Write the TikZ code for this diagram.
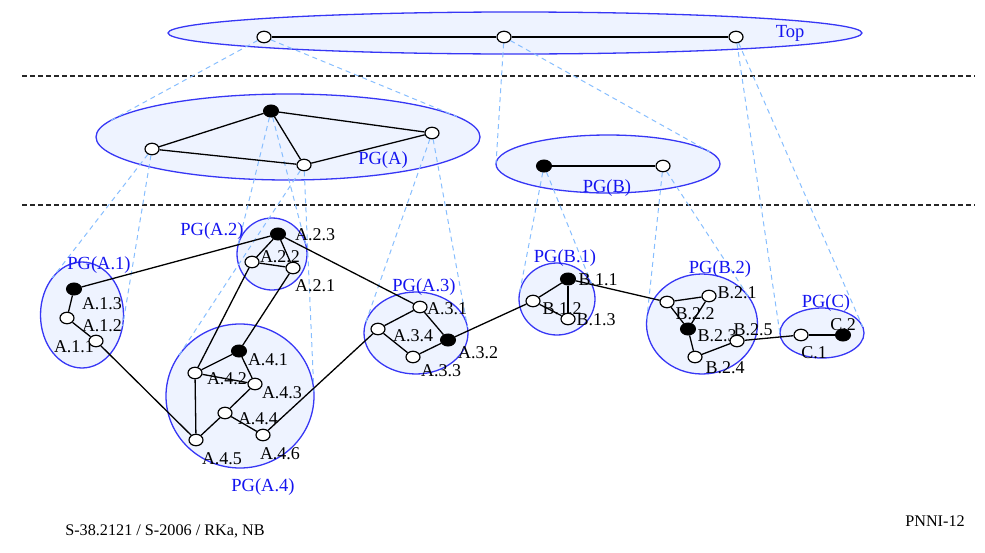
\documentclass[tikz,border=0pt]{standalone}
\usepackage{fontspec}
\setmainfont{Liberation Serif}
\usetikzlibrary{shapes.geometric}
\definecolor{pgfill}{RGB}{238,243,255}
\definecolor{pgline}{RGB}{55,55,245}
\definecolor{pgtext}{RGB}{20,20,240}
\definecolor{conecol}{RGB}{135,190,255}
\pgfdeclarelayer{bg}
\pgfdeclarelayer{mid}
\pgfdeclarelayer{lab}
\pgfsetlayers{bg,mid,lab,main}
\tikzset{
  grp/.style={ellipse, draw=pgline, fill=pgfill, line width=1.3pt, inner sep=0pt, outer sep=0pt},
  wn/.style={ellipse, draw=black, fill=white, line width=1.2pt, minimum width=14pt, minimum height=11.5pt, inner sep=0pt},
  bn/.style={ellipse, draw=black, fill=black, line width=1pt, minimum width=15pt, minimum height=12pt, inner sep=0pt},
  edge/.style={draw=black, line width=1.3pt},
  conel/.style={draw=conecol, dash pattern=on 5pt off 4pt, line width=1pt},
  sepline/.style={draw=black!85, dash pattern=on 5pt off 3pt, line width=1.1pt},
  lbl/.style={font=\fontsize{18}{18}\selectfont, inner sep=0pt},
  glbl/.style={font=\fontsize{18.5}{18.5}\selectfont, inner sep=0pt, text=pgtext},
  foot/.style={font=\fontsize{16.2}{16.2}\selectfont, inner sep=0pt},
}
\newcommand\grpat[5]{\node[grp, minimum width=#4pt, minimum height=#5pt] (#1) at (#2,#3) {};}
% cone tangents: #1 parent node, #2 px, #3 py, #4 cx, #5 cy, #6 a, #7 b
\newcommand\conetan[7]{%
  \pgfmathsetmacro\cnX{(#2-#4)/#6}%
  \pgfmathsetmacro\cnY{(#3-#5)/#7}%
  \pgfmathsetmacro\cnT{atan2(\cnY,\cnX)}%
  \pgfmathsetmacro\cnA{acos(1/sqrt(\cnX*\cnX+\cnY*\cnY))}%
  \coordinate (#1-tl) at ({#4+#6*cos(\cnT+\cnA)},{#5+#7*sin(\cnT+\cnA)});
  \coordinate (#1-tr) at ({#4+#6*cos(\cnT-\cnA)},{#5+#7*sin(\cnT-\cnA)});
  \draw[conel] (#1) -- (#1-tl);
  \draw[conel] (#1) -- (#1-tr);
}
\begin{document}
\begin{tikzpicture}[x=1pt,y=-1pt]
\useasboundingbox (0,0) rectangle (985,552);
% ---------- nodes ----------
\node[wn] (t1) at (264,37) {};
\node[wn] (t2) at (504,37) {};
\node[wn] (t3) at (736,37) {};
\node[bn] (aB) at (271,111) {};
\node[wn] (a1) at (152,149) {};
\node[wn] (a2) at (304,165) {};
\node[wn] (a3) at (432,133) {};
\node[bn] (bB) at (544,166) {};
\node[wn] (b2) at (663,166) {};
\node[bn] (a13) at (74,289) {};
\node[wn] (a12) at (67,318) {};
\node[wn] (a11) at (96,341) {};
\node[bn] (a23) at (278,234) {};
\node[wn] (a22) at (252,262) {};
\node[wn] (a21) at (293,268) {};
\node[bn] (a41) at (239,351) {};
\node[wn] (a42) at (195,373) {};
\node[wn] (a43) at (255,384) {};
\node[wn] (a44) at (225,413) {};
\node[wn] (a45) at (196,440) {};
\node[wn] (a46) at (263,435) {};
\node[wn] (a31) at (420,307) {};
\node[wn] (a34) at (378,329) {};
\node[bn] (a32) at (448,340) {};
\node[wn] (a33) at (413,357) {};
\node[bn] (b11) at (568,279) {};
\node[wn] (b12) at (533,301) {};
\node[wn] (b13) at (568,319) {};
\node[wn] (b22) at (667,302) {};
\node[wn] (b21) at (709,296) {};
\node[bn] (b23) at (688,329) {};
\node[wn] (b25) at (737,341) {};
\node[wn] (b24) at (695,357) {};
\node[wn] (c1) at (801,335) {};
\node[bn] (c2) at (843,335) {};
% ---------- groups ----------
\begin{pgfonlayer}{bg}
\grpat{gTop}{515}{33}{694}{42}
\grpat{gA}{288}{137}{384}{86}
\grpat{gB}{608}{164}{224}{58}
\grpat{gA1}{82}{315}{83}{106}
\grpat{gA2}{272}{254}{70}{72}
\grpat{gA4}{240}{396}{148}{144}
\grpat{gA3}{416}{333}{104}{82}
\grpat{gB1}{557}{299}{76}{72}
\grpat{gB2}{702}{324}{111}{100}
\grpat{gC}{822}{333}{84}{50}
\draw[sepline] (22,76) coordinate (s1a) -- (975,76) coordinate (s1b);
\draw[sepline] (22,205) coordinate (s2a) -- (975,205) coordinate (s2b);
\end{pgfonlayer}
% ---------- cone lines ----------
\begin{pgfonlayer}{mid}
\conetan{t1}{264}{37}{288}{137}{192}{43}
\conetan{t2}{504}{37}{608}{164}{112}{29}
\conetan{t3}{736}{37}{822}{333}{42}{25}
\conetan{a1}{152}{149}{82}{315}{41.5}{53}
\conetan{aB}{271}{111}{272}{254}{35}{36}
\conetan{a2}{304}{165}{240}{396}{74}{72}
\conetan{a3}{432}{133}{416}{333}{52}{41}
\conetan{bB}{544}{166}{557}{299}{38}{36}
\conetan{b2}{663}{166}{702}{324}{55.5}{50}
% ---------- edges ----------
\draw[edge] (t1) -- (t2);
\draw[edge] (t2) -- (t3);
\draw[edge] (aB) -- (a1);
\draw[edge] (aB) -- (a3);
\draw[edge] (aB) -- (a2);
\draw[edge] (a1) -- (a2);
\draw[edge] (a2) -- (a3);
\draw[edge] (bB) -- (b2);
\draw[edge] (a13) -- (a12);
\draw[edge] (a12) -- (a11);
\draw[edge] (a23) -- (a22);
\draw[edge] (a23) -- (a21);
\draw[edge] (a22) -- (a21);
\draw[edge] (a41) -- (a42);
\draw[edge] (a41) -- (a43);
\draw[edge] (a42) -- (a43);
\draw[edge] (a42) -- (a45);
\draw[edge] (a45) -- (a44);
\draw[edge] (a44) -- (a43);
\draw[edge] (a44) -- (a46);
\draw[edge] (a31) -- (a34);
\draw[edge] (a34) -- (a33);
\draw[edge] (a33) -- (a32);
\draw[edge] (a32) -- (a31);
\draw[edge] (b11) -- (b12);
\draw[edge] (b11) -- (b13);
\draw[edge] (b12) -- (b13);
\draw[edge] (b22) -- (b21);
\draw[edge] (b22) -- (b23);
\draw[edge] (b21) -- (b23);
\draw[edge] (b23) -- (b24);
\draw[edge] (b24) -- (b25);
\draw[edge] (c1) -- (c2);
\draw[edge] (a13) -- (a23);
\draw[edge] (a11) -- (a45);
\draw[edge] (a22) -- (a42);
\draw[edge] (a21) -- (a41);
\draw[edge] (a23) -- (a31);
\draw[edge] (a46) -- (a34);
\draw[edge] (a32) -- (b12);
\draw[edge] (b11) -- (b22);
\draw[edge] (b25) -- (c1);
\end{pgfonlayer}
% ---------- labels ----------
\begin{pgfonlayer}{lab}
\node[glbl] (lTop) at (790,33) {Top};
\node[glbl] (lA) at (383,160) {PG(A)};
\node[glbl] (lB) at (607,188) {PG(B)};
\node[glbl] (lA1) at (99,265) {PG(A.1)};
\node[glbl] (lA2) at (212,231) {PG(A.2)};
\node[glbl] (lA4) at (263,487) {PG(A.4)};
\node[glbl] (lA3) at (424,287) {PG(A.3)};
\node[glbl] (lB1) at (565,258) {PG(B.1)};
\node[glbl] (lB2) at (720,269) {PG(B.2)};
\node[glbl] (lC) at (826,303) {PG(C)};
\node[lbl] (la13) at (102,304) {A.1.3};
\node[lbl] (la12) at (102,326) {A.1.2};
\node[lbl] (la11) at (74,347) {A.1.1};
\node[lbl] (la23) at (315,235) {A.2.3};
\node[lbl] (la22) at (280,257) {A.2.2};
\node[lbl] (la21) at (315,286) {A.2.1};
\node[lbl] (la41) at (268,360) {A.4.1};
\node[lbl] (la42) at (227,379) {A.4.2};
\node[lbl] (la43) at (282,393) {A.4.3};
\node[lbl] (la44) at (258,419) {A.4.4};
\node[lbl] (la45) at (222,459) {A.4.5};
\node[lbl] (la46) at (280,454) {A.4.6};
\node[lbl] (la31) at (447,309) {A.3.1};
\node[lbl] (la34) at (413,336) {A.3.4};
\node[lbl] (la32) at (478,353) {A.3.2};
\node[lbl] (la33) at (441,371) {A.3.3};
\node[lbl] (lb11) at (598,280) {B.1.1};
\node[lbl] (lb12) at (562,309) {B.1.2};
\node[lbl] (lb13) at (596,320) {B.1.3};
\node[lbl] (lb21) at (737,293) {B.2.1};
\node[lbl] (lb22) at (695,314) {B.2.2};
\node[lbl] (lb23) at (717,336) {B.2.3};
\node[lbl] (lb25) at (753,330) {B.2.5};
\node[lbl] (lb24) at (725,368) {B.2.4};
\node[lbl] (lc1) at (814,353) {C.1};
\node[lbl] (lc2) at (843,325) {C.2};
\node[foot] (f1) at (165,531) {S-38.2121 / S-2006 / RKa, NB};
\node[foot] (f2) at (935,521) {PNNI-12};
\end{pgfonlayer}
\end{tikzpicture}
\end{document}
